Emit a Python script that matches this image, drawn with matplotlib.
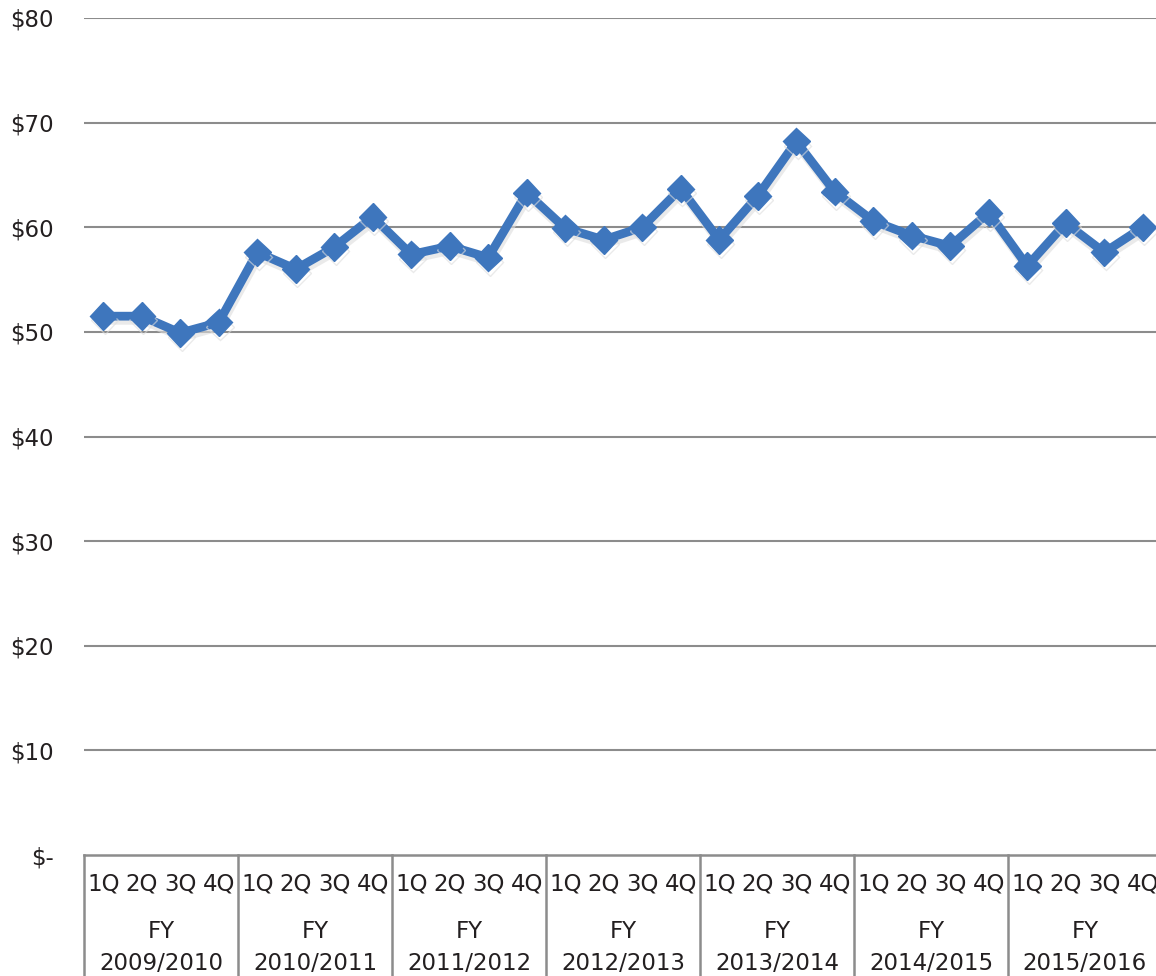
import matplotlib
matplotlib.use('Agg')
import matplotlib.pyplot as plt
import matplotlib.transforms as mtransforms
from matplotlib import patheffects as pe

# fiscal years and quarters
years = ['2009/2010', '2010/2011', '2011/2012', '2012/2013',
         '2013/2014', '2014/2015', '2015/2016']
quarters = ['1Q', '2Q', '3Q', '4Q']

# quarterly values
values = [51.5, 51.5, 49.9, 50.9,
          57.6, 56.0, 58.1, 61.0,
          57.4, 58.2, 57.1, 63.3,
          59.9, 58.8, 60.0, 63.7,
          58.8, 63.0, 68.2, 63.4,
          60.6, 59.2, 58.2, 61.4,
          56.3, 60.4, 57.6, 60.0]

yticks = [0, 10, 20, 30, 40, 50, 60, 70, 80]

txt = '#231f20'
grid = '#8c8c8c'
blue = '#3e76bd'
fs = 16.5

plt.rcParams['font.family'] = ['DejaVu Sans']

fig = plt.figure(figsize=(11.56, 9.76), dpi=100)
W, H = 1156, 976
left, right, top, bottom = 84, 1162, 18, 855
ax = fig.add_axes([left / W, 1 - bottom / H, (right - left) / W, (bottom - top) / H])

x = list(range(len(values)))
ax.plot(x, values, color=blue, lw=6.3, marker='D', ms=14, mfc=blue, mec=blue,
        solid_joinstyle='miter', zorder=3,
        path_effects=[pe.SimpleLineShadow(offset=(1, -3), shadow_color='#dddddd', alpha=0.6),
                      pe.Normal()])

ax.set_xlim(-0.5, len(values) - 0.5)
ax.set_ylim(0, 80)
ax.set_yticks(yticks)
ax.set_yticklabels(['$-' if v == 0 else f'${v}' for v in yticks])
ax.tick_params(axis='y', length=0, pad=22, labelsize=fs, labelcolor=txt)
ax.set_xticks([])

for v in yticks[1:]:
    ax.axhline(v, color=grid, lw=1.5, zorder=1)

for s in ['top', 'right', 'left']:
    ax.spines[s].set_visible(False)
ax.spines['bottom'].set_color(grid)
ax.spines['bottom'].set_linewidth(1.8)

# category box below the axis
trans = mtransforms.blended_transform_factory(ax.transData, ax.transAxes)
ax_h = bottom - top
y_low = -(H - bottom) / ax_h
for g in range(len(years) + 1):
    ax.plot([g * 4 - 0.5, g * 4 - 0.5], [0, y_low], transform=trans, color=grid,
            lw=1.8, clip_on=False)

for i in x:
    ax.text(i, -29 / ax_h, quarters[i % 4], transform=trans, ha='center', va='center',
            fontsize=fs, color=txt)
for g, yr in enumerate(years):
    ax.text(g * 4 + 1.5, -76 / ax_h, 'FY', transform=trans, ha='center', va='center',
            fontsize=fs, color=txt)
    ax.text(g * 4 + 1.5, -108 / ax_h, yr, transform=trans, ha='center', va='center',
            fontsize=fs, color=txt)

fig.savefig('out.png', dpi=100)
